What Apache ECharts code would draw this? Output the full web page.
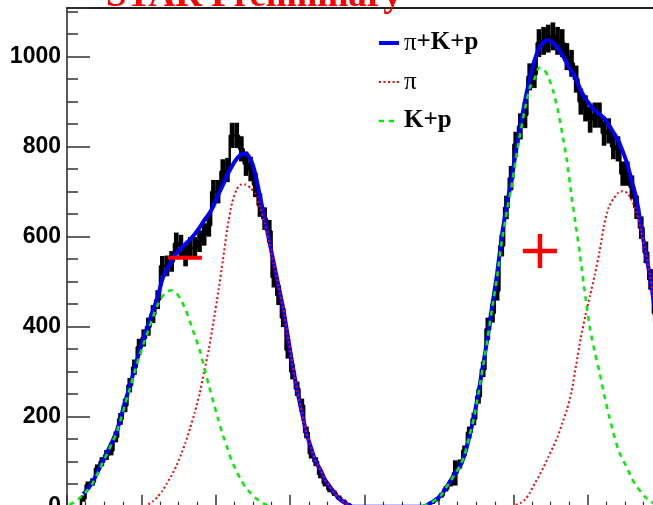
<!DOCTYPE html>
<html>
<head>
<meta charset="utf-8">
<script src="https://cdn.jsdelivr.net/npm/echarts@6/dist/echarts.min.js"></script>
<style>html,body{margin:0;padding:0;background:#fff;}#c{width:653px;height:505px;}</style>
</head>
<body>
<div id="c"></div>
<script>
// ---- data ----
const binCount = 128; // bins of width 1/16 along the x axis (0..8)
const binLabels = Array.from({length: binCount}, (_, i) => ((i + 0.5) / 16).toFixed(4));

const histValues = [
  0,0,0,18,48,55,85,100,115,125,155,195,225,270,310,355,375,400,428,460,
  535,535,545,585,580,558,575,575,590,605,625,700,700,745,748,825,825,795,762,750,
  715,670,640,612,510,470,420,348,300,262,225,165,118,100,72,52,38,30,20,12,
  5,0,0,0,0,0,0,0,0,0,0,0,0,0,0,0,0,4,9,16,
  25,40,52,75,95,125,165,195,245,305,395,430,480,580,665,730,805,845,870,955,
  960,1030,1035,1040,1045,1035,1030,1000,985,950,900,885,860,870,870,830,835,800,795,740,
  740,710,665,620,565,505,430,380
];
const histErrors = [
  0,0,0,7,8,8,9,10,11,11,12,13,15,16,17,18,19,20,20,21,
  22,23,23,24,24,24,24,24,24,25,25,26,26,27,27,28,28,28,27,27,
  27,26,25,25,23,22,21,19,17,16,15,13,11,10,9,7,6,6,5,4,
  3,0,0,0,0,0,0,0,0,0,0,0,0,0,0,0,0,2,3,4,
  5,6,7,28,10,11,13,14,16,17,25,21,22,24,26,27,28,29,29,30,
  30,31,31,31,31,31,31,30,30,30,29,29,29,28,28,28,28,28,28,27,
  27,26,26,25,24,23,21,20
];
const fitTotal = [
  null,null,null,28,40,55,75,97,118,140,162,195,233,268,305,342,375,405,437,465,
  505,528,546,562,574,584,594,606,620,636,650,668,692,714,737,757,773,783,785,772,
  740,690,640,590,540,490,440,378,315,258,210,163,130,100,82,60,45,31,18,10,
  4,0,0,0,0,0,0,0,0,0,0,0,0,0,0,0,0,4,10,17,
  26,42,58,75,90,115,155,198,255,315,380,450,518,600,665,722,787,845,902,950,
  990,1018,1032,1037,1030,1020,1004,985,967,950,925,907,893,880,872,864,849,832,815,790,
  761,722,683,620,560,505,430,370
];
const fitPion = [
  null,null,null,null,null,null,null,null,null,null,null,null,null,null,null,null,null,5,12,22,
  35,52,70,90,115,143,175,210,250,300,350,410,475,545,620,675,705,716,716,708,
  695,665,630,586,538,490,440,378,315,258,210,163,130,100,82,60,45,31,18,10,
  4,null,null,null,null,null,null,null,null,null,null,null,null,null,null,null,null,null,null,null,
  null,null,null,null,null,null,null,null,null,null,null,null,null,null,null,null,4,8,16,30,
  50,68,88,110,132,155,185,215,255,315,375,425,470,515,565,625,665,684,697,701,
  697,680,652,610,565,505,440,370
];
const fitKaonProton = [
  4,10,17,27,38,52,72,95,115,138,160,192,228,262,298,332,362,392,422,448,
  467,478,481,475,460,438,410,380,350,310,270,232,195,160,130,100,78,58,42,30,
  20,12,6,2,null,null,null,null,null,null,null,null,null,null,null,null,null,null,null,null,
  null,null,null,null,null,null,null,null,null,null,null,null,null,null,null,null,2,5,10,17,
  26,42,57,74,90,115,155,197,253,313,378,446,510,590,650,705,770,830,885,930,
  950,975,972,956,925,885,830,770,690,620,545,465,395,345,300,250,205,165,128,105,
  85,62,45,32,20,12,5,2
];
const crossMarker = [[6.357, 568]];
const barMarker = [[1.585, 553]];
const yTicks = {min: 0, max: 1108, interval: 200};
const legendNames = ['π+K+p', 'π', 'K+p'];
const titleText = 'STAR Preliminary';

// ---- chart ----
const histBoxes = [];
histValues.forEach((v, i) => { if (v > 0 || histErrors[i] > 0) histBoxes.push([i, v, histErrors[i]]); });

const chart = echarts.init(document.getElementById('c'), null, {renderer: 'canvas'});
const tickColor = '#333';
chart.setOption({
  animation: false,
  backgroundColor: '#ffffff',
  grid: {left: 67, right: -9.2, top: 8, bottom: -1.7, containLabel: false, outerBoundsMode: 'none'},
  graphic: [{
    type: 'text', x: 106, y: -3.5, z: 100,
    style: {text: titleText, font: 'bold 37px "Liberation Serif"', fill: '#ff0000', verticalAlign: 'middle', align: 'left'}
  }],
  legend: {
    data: legendNames, orient: 'vertical', left: 377, top: 30.5, itemGap: 14, padding: 0,
    itemWidth: 20, itemHeight: 14,
    itemStyle: {opacity: 0},
    lineStyle: {width: 'inherit'},
    formatter: n => n.replace('π', '{pi|π}'),
    textStyle: {fontFamily: 'Liberation Serif', fontWeight: 'bold', fontSize: 25, color: '#000',
      rich: {pi: {fontFamily: 'Liberation Serif', fontWeight: 'normal', fontSize: 25, color: '#000'}}}
  },
  xAxis: [
    {type: 'value', min: 0, max: 8, interval: 1, position: 'bottom',
      axisLine: {show: true, lineStyle: {color: '#222', width: 1.5}},
      axisTick: {show: true, inside: true, length: 12, lineStyle: {color: tickColor, width: 1.5}},
      minorTick: {show: true, splitNumber: 4, length: 5, lineStyle: {color: tickColor, width: 1.2}},
      axisLabel: {show: false}, splitLine: {show: false}},
    {type: 'value', min: 0, max: 8, position: 'top',
      axisLine: {show: true, lineStyle: {color: '#222', width: 2}},
      axisTick: {show: false}, axisLabel: {show: false}, splitLine: {show: false}},
    {type: 'category', data: binLabels, boundaryGap: true, show: false}
  ],
  yAxis: [{
    type: 'value', min: yTicks.min, max: yTicks.max, interval: yTicks.interval,
    axisLine: {show: true, lineStyle: {color: '#222', width: 1.5}},
    axisTick: {show: true, inside: true, length: 23, lineStyle: {color: tickColor, width: 1.5}},
    minorTick: {show: true, splitNumber: 4, length: 11, lineStyle: {color: tickColor, width: 1.5}},
    axisLabel: {fontFamily: 'Liberation Sans', fontWeight: 'bold', fontSize: 23, color: '#000', margin: 6,
      showMaxLabel: false, formatter: v => String(v)},
    splitLine: {show: false}
  }],
  series: [
    {name: 'data', type: 'custom', xAxisIndex: 2, yAxisIndex: 0, z: 1,
      data: histBoxes,
      renderItem: (params, api) => {
        const i = api.value(0), v = api.value(1), e = api.value(2);
        const top = api.coord([i, v + e]);
        const bot = api.coord([i, v - e]);
        const w = api.size([1, 0])[0];
        return {type: 'rect', shape: {x: top[0] - w / 2, y: top[1], width: w, height: Math.max(bot[1] - top[1], 1)},
          style: {fill: '#000'}};
      }},
    {name: 'dataStep', type: 'line', xAxisIndex: 2, step: 'middle', data: histValues, symbol: 'none', z: 2,
      lineStyle: {color: '#000', width: 2.5}},
    {name: 'π+K+p', type: 'line', xAxisIndex: 2, data: fitTotal, symbol: 'none', z: 3, smooth: 0.2,
      itemStyle: {color: '#0000ff'}, lineStyle: {color: '#0000ff', width: 4}},
    {name: 'π', type: 'line', xAxisIndex: 2, data: fitPion, symbol: 'none', z: 4, smooth: 0.2,
      itemStyle: {color: '#ff0000'}, lineStyle: {color: '#ff0000', width: 2, type: [2, 2.5]}},
    {name: 'K+p', type: 'line', xAxisIndex: 2, data: fitKaonProton, symbol: 'none', z: 5, smooth: 0.2,
      itemStyle: {color: '#00ee00'}, lineStyle: {color: '#00ee00', width: 2.5, type: [5, 5]}},
    {name: 'cross', type: 'scatter', xAxisIndex: 0, data: crossMarker, z: 6,
      symbol: 'path://M14.75,0 h4.5 v14.75 h14.75 v4.5 h-14.75 v14.75 h-4.5 v-14.75 h-14.75 v-4.5 h14.75 z',
      symbolSize: [34, 34], itemStyle: {color: '#ff0000', opacity: 1}},
    {name: 'bar', type: 'scatter', xAxisIndex: 0, data: barMarker, z: 6,
      symbol: 'rect', symbolSize: [34, 4], itemStyle: {color: '#ff0000', opacity: 1}}
  ]
});
</script>
</body>
</html>
